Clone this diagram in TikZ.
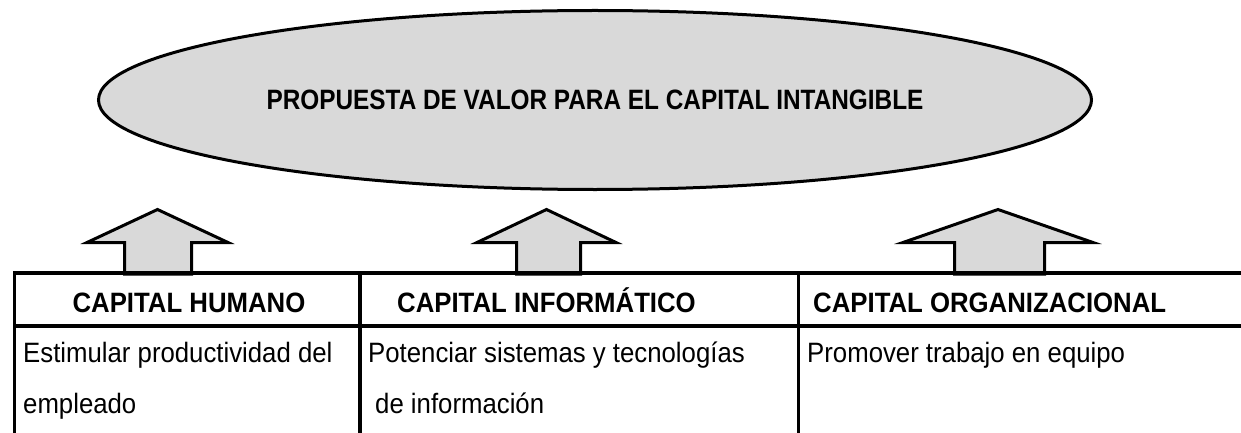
\documentclass[tikz,border=0pt]{standalone}
\usepackage{fontspec}
\usepackage{xcolor}
\usetikzlibrary{shapes.geometric, positioning}
\newfontfamily\narrowsans[FakeStretch=0.92]{Liberation Sans}
\newfontfamily\titlesans[FakeStretch=0.87]{Liberation Sans}
\definecolor{capGray}{HTML}{D9D9D9}
\definecolor{capDark}{HTML}{000000}

\begin{document}
\begin{tikzpicture}[x=1pt,y=-1pt,
  rule/.style={draw=capDark,line width=3.2pt},
  headtext/.style={font=\narrowsans\bfseries\fontsize{28}{34}\selectfont,inner sep=0pt},
  bodytext/.style={font=\narrowsans\fontsize{28}{34}\selectfont,inner sep=0pt,anchor=base west}]
\useasboundingbox (0,0) rectangle (1241,433);
\newcommand{\capitalarrow}[4]{%
  \draw[fill=capGray,draw=capDark,line width=3pt]
    (#1-#4,274) -- (#1-#4,242.5) -- (#2-#3,242.5) -- (#2,209.5)
    -- (#2+#3,242.5) -- (#1+#4,242.5) -- (#1+#4,274) -- cycle;
}
% value proposition
\node[ellipse,draw=capDark,fill=capGray,line width=3pt,inner sep=0pt,
  minimum width=993pt,minimum height=179pt,
  font=\titlesans\bfseries\fontsize{28}{34}\selectfont] (propuesta) at (595,100)
  {PROPUESTA DE VALOR PARA EL CAPITAL INTANGIBLE};
% arrows into the ellipse
\capitalarrow{158}{157.5}{70.5}{33.5}
\capitalarrow{548.5}{546.5}{69.5}{32}
\capitalarrow{999.5}{998}{95}{45}
% table
\draw[rule] (14.5,273) -- (1241,273);
\draw[rule] (14.5,326) -- (1241,326);
\foreach \x in {14.5,360,798.5} {
  \draw[rule] (\x,271.4) -- (\x,433);
}
\node[headtext,anchor=base] (humano) at (189,312) {CAPITAL HUMANO};
\node[headtext,anchor=base west] (informatico) at (397,312) {CAPITAL INFORMÁTICO};
\node[headtext,anchor=base west] (organizacional) at (813,312) {CAPITAL ORGANIZACIONAL};
\node[bodytext] (humanoA) at (23,362) {Estimular productividad del};
\node[bodytext] (humanoB) at (23,413) {empleado};
\node[bodytext] (informaticoA) at (368,362) {Potenciar sistemas y tecnologías};
\node[bodytext] (informaticoB) at (375,413) {de información};
\node[bodytext] (organizacionalA) at (807,362) {Promover trabajo en equipo};
\end{tikzpicture}
\end{document}
